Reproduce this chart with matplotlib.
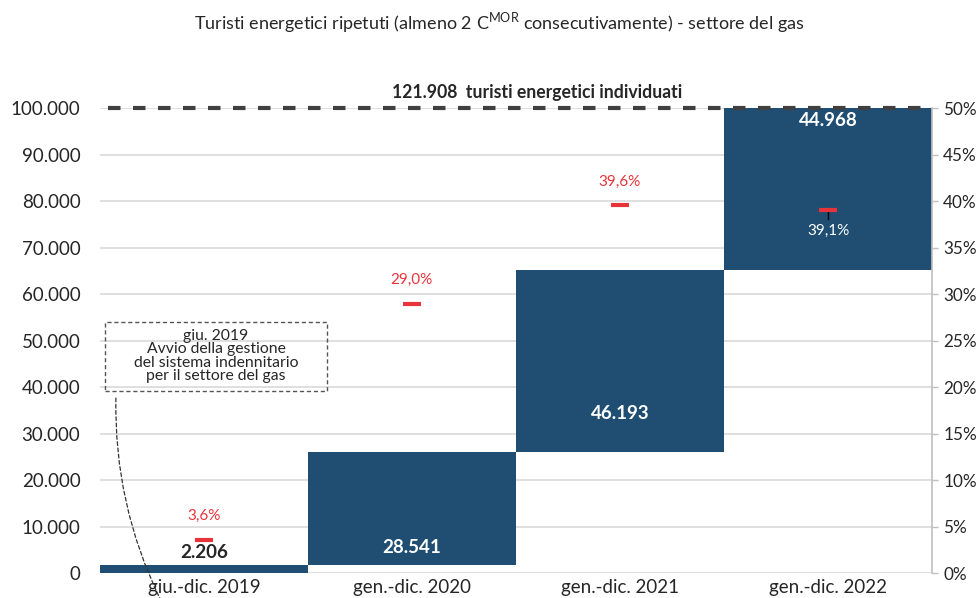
import numpy as np
import matplotlib.pyplot as plt
from matplotlib.patches import Rectangle

plt.rcParams['font.family'] = ['Lato', 'DejaVu Sans']
plt.rcParams['mathtext.fontset'] = 'custom'
plt.rcParams['mathtext.rm'] = 'Lato'

# ---------- Data ----------
categories = ["giu.-dic. 2019", "gen.-dic. 2020", "gen.-dic. 2021", "gen.-dic. 2022"]
value_labels = [2206, 28541, 46193, 44968]          # numbers printed on the bars
bar_heights = [1800, 24300, 39100, 34800]           # bar heights as drawn on the left axis
pct = [3.6, 29.0, 39.6, 39.1]                        # red markers, right axis (%)
total_label = "121.908  turisti energetici individuati"
total_level = 100000
left_ticks = list(range(0, 100001, 10000))
right_ticks = list(range(0, 51, 5))

bar_color = "#1f4e72"
red = "#e8333a"
dark = "#262626"

def it_num(v):
    return f"{v:,}".replace(",", ".")

fig = plt.figure(figsize=(9.79, 5.98), dpi=100)
ax = fig.add_axes([0.102, 0.041, 0.85, 0.778])

x = np.arange(len(categories))
bottoms = np.concatenate([[0], np.cumsum(bar_heights)[:-1]])
ax.bar(x, bar_heights, bottom=bottoms, width=1.0, color=bar_color, zorder=3)

ax.set_xlim(-0.5, 3.5)
ax.set_ylim(0, 100000)
ax.set_yticks(left_ticks)
ax.set_yticklabels([it_num(t) for t in left_ticks])
ax.set_xticks(x)
ax.set_xticklabels(categories)
ax.tick_params(axis="y", length=0, pad=14, labelsize=13.5, labelcolor=dark)
ax.tick_params(axis="x", length=0, pad=4, labelsize=13.5, labelcolor=dark)
ax.yaxis.grid(True, color="#d9d9d9", lw=1.2, zorder=0)
for s in ax.spines.values():
    s.set_visible(False)

# total dashed line
ax.plot([-0.46, 3.5], [total_level, total_level], color="#404040", lw=3,
        dashes=(3, 3), zorder=5, clip_on=False)
ax.annotate(total_label, (1.6, total_level), xytext=(0, 11), textcoords="offset points",
            ha="center", va="center", fontsize=12.7, fontweight="bold", color=dark)

# value labels
tops = bottoms + np.array(bar_heights)
ax.annotate(it_num(value_labels[0]), (0, tops[0]), xytext=(0, 9), textcoords="offset points",
            ha="center", va="center", fontsize=13.5, fontweight="bold", color=dark, zorder=6)
ax.annotate(it_num(value_labels[1]), (1, bottoms[1]), xytext=(0, 13), textcoords="offset points",
            ha="center", va="center", fontsize=13.5, fontweight="bold", color="white", zorder=6)
ax.annotate(it_num(value_labels[2]), (2, bottoms[2]), xytext=(0, 28), textcoords="offset points",
            ha="center", va="center", fontsize=13.5, fontweight="bold", color="white", zorder=6)
ax.annotate(it_num(value_labels[3]), (3, tops[3]), xytext=(0, -9), textcoords="offset points",
            ha="center", va="center", fontsize=13.5, fontweight="bold", color="white", zorder=6)

# right axis with percentages
ax2 = ax.twinx()
ax2.set_ylim(0, 50)
ax2.set_yticks(right_ticks)
ax2.set_yticklabels([f"{t}%" for t in right_ticks])
ax2.tick_params(axis="y", length=4, width=1, color="#bfbfbf", pad=4, labelsize=12.3, labelcolor=dark)
for s in ax2.spines.values():
    s.set_visible(False)
ax2.spines["right"].set_visible(True)
ax2.spines["right"].set_color("#bfbfbf")
ax2.spines["right"].set_linewidth(1.2)

for i, p in enumerate(pct):
    ax2.plot([i - 0.045, i + 0.045], [p, p], color=red, lw=3, solid_capstyle="butt", zorder=6)
    lab = f"{p:.1f}%".replace(".", ",")
    if i < 3:
        ax2.annotate(lab, (i, p), xytext=(0, 17), textcoords="offset points",
                     ha="center", va="center", fontsize=11, color=red)
    else:
        ax2.plot([i, i], [p - 1.0, p], color="black", lw=1, zorder=5)
        ax2.annotate(lab, (i, p), xytext=(0, -15), textcoords="offset points",
                     ha="center", va="center", fontsize=11, color="white")

# annotation box
ax.add_patch(Rectangle((-0.476, 39200), 1.067, 14800, fill=False, ls=(0, (3, 2)),
                       lw=1, edgecolor="#555555", zorder=6))
ax.text(0.058, 46700, "giu. 2019\nAvvio della gestione\ndel sistema indennitario\nper il settore del gas",
        ha="center", va="center", fontsize=11.3, color=dark, linespacing=0.95, zorder=6)
ax.annotate("", xy=(-0.21, -5500), xytext=(-0.423, 37700),
            arrowprops=dict(arrowstyle="-", ls=(0, (3, 2)), lw=0.9, color="#333333",
                            connectionstyle="arc3,rad=0.12", shrinkA=0, shrinkB=0),
            annotation_clip=False, zorder=6)

fig.text(0.51, 0.962, "Turisti energetici ripetuti (almeno 2 C$^{\\mathrm{MOR}}$ consecutivamente) - settore del gas",
         ha="center", va="center", fontsize=13, color=dark)

fig.savefig("out.png", dpi=100, facecolor="white")
